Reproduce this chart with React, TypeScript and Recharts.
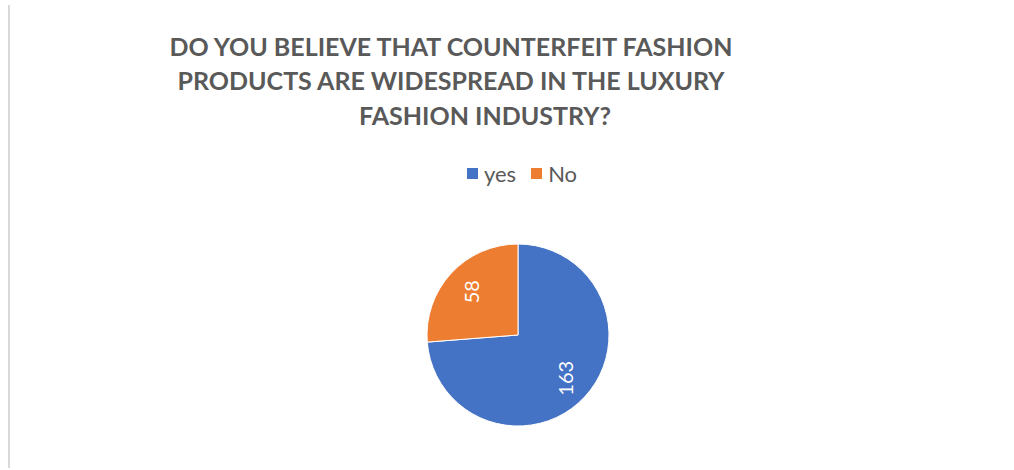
import { PieChart, Pie, Cell } from 'recharts';

const categories = ['yes', 'No'];
const counts = [163, 58];
const colors = ['#4472C4', '#ED7D31'];
const titleLines = [
  'DO YOU BELIEVE THAT COUNTERFEIT FASHION',
  'PRODUCTS ARE WIDESPREAD IN THE LUXURY',
  'FASHION INDUSTRY?',
];

const data = categories.map((name, i) => ({ name, value: counts[i] }));

const RAD = Math.PI / 180;
const FONT = "Lato, 'Open Sans', sans-serif";

// ラベルはExcel風に-90度回転して扇形の内側に置く
const renderLabel = (props: any) => {
  const { cx, cy, midAngle, outerRadius, value } = props;
  const r = outerRadius * 0.7;
  const x = cx + r * Math.cos(-midAngle * RAD);
  const y = cy + r * Math.sin(-midAngle * RAD);
  return (
    <text
      x={x}
      y={y}
      fill="#fff"
      fontSize={20}
      fontFamily={FONT}
      textAnchor="middle"
      dominantBaseline="central"
      transform={`rotate(-90 ${x} ${y})`}
    >
      {value}
    </text>
  );
};

export default function App() {
  return (
    <div style={{ position: 'fixed', left: 0, top: 0, width: 1014, height: 470, background: '#fff' }}>
      <div style={{ position: 'absolute', left: 8, top: 5, width: 2, height: 463, background: '#d9d9d9' }} />
      <div style={{ position: 'absolute', left: 0, top: 0, width: 1014, fontFamily: FONT, fontWeight: 700, fontSize: 25, color: '#595959' }}>
        {titleLines.map((line, i) => (
          <div
            key={i}
            style={{ position: 'absolute', top: 29 + i * 34.3, left: i === 2 ? 485 - 300 : 451 - 300, width: 600, textAlign: 'center', whiteSpace: 'nowrap', lineHeight: '34px' }}
          >
            {line}
          </div>
        ))}
      </div>
      {/* 凡例 */}
      <div style={{ position: 'absolute', top: 160, left: 0, width: 1014, display: 'flex', justifyContent: 'center', gap: 15, fontFamily: FONT, fontSize: 22, color: '#595959', paddingLeft: 30, boxSizing: 'border-box' }}>
        {categories.map((name, i) => (
          <div key={name} style={{ display: 'flex', alignItems: 'center' }}>
            <span style={{ width: 11, height: 11, background: colors[i], display: 'inline-block', marginRight: 6 }} />
            <span>{name}</span>
          </div>
        ))}
      </div>
      <div style={{ position: 'absolute', left: 0, top: 0 }}>
        <PieChart width={1014} height={470} margin={{ top: 0, right: 0, bottom: 0, left: 0 }}>
          <Pie
            data={data}
            dataKey="value"
            nameKey="name"
            cx={518}
            cy={335}
            outerRadius={91}
            startAngle={90}
            endAngle={-270}
            stroke="#fff"
            strokeWidth={1}
            label={renderLabel}
            labelLine={false}
            isAnimationActive={false}
          >
            {data.map((entry, index) => (
              <Cell key={`cell-${index}`} fill={colors[index]} />
            ))}
          </Pie>
        </PieChart>
      </div>
    </div>
  );
}
